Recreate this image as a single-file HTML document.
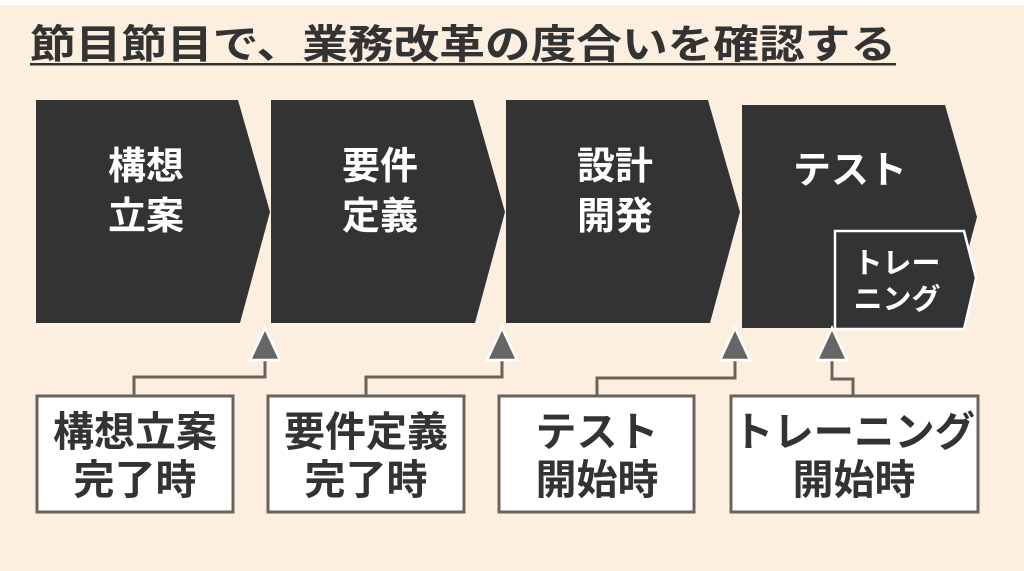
<!DOCTYPE html>
<html><head><meta charset="utf-8"><style>
body{margin:0;background:#fff}
svg{display:block}
text{font-family:"Liberation Sans","Noto Sans CJK JP",sans-serif;font-weight:bold}
</style></head><body>
<svg width="1024" height="571" viewBox="0 0 1024 571">
<rect x="0" y="5" width="1024" height="566" fill="#fdefdf"/>
<text x="30" y="58" font-size="40" fill="#333" textLength="866" lengthAdjust="spacingAndGlyphs">節目節目で、業務改革の度合いを確認する</text>
<rect x="30" y="63" width="866" height="2.5" fill="#333"/>
<g fill="#333">
<polygon points="36,100 238,100 270,212 240,323 36,323"/>
<polygon points="271,100 473,100 505,212 475,323 271,323"/>
<polygon points="506,100 708,100 740,212 710,323 506,323"/>
<polygon points="742,105 945,105 977,217 947,328 742,328"/>
</g>
<polygon points="835,231 964,231 976,278 964,329 835,329" fill="#333" stroke="#fff" stroke-width="2.5"/>
<g fill="#fff" font-size="38" text-anchor="middle">
<text x="146" y="179">構想</text><text x="146" y="229">立案</text>
<text x="380" y="179">要件</text><text x="380" y="229">定義</text>
<text x="615" y="179">設計</text><text x="615" y="229">開発</text>
<text x="850" y="183">テスト</text>
<text x="897" y="273" font-size="29">トレー</text><text x="897" y="309" font-size="29">ニング</text>
</g>
<g fill="none" stroke="#6a635c" stroke-width="3">
<polyline points="265,358 265,377 134,377 134,395"/>
<polyline points="502,358 502,377 366,377 366,395"/>
<polyline points="735,358 735,378 597,378 597,395"/>
<polyline points="832,358 832,379 853,379 853,395"/>
</g>
<g fill="#666" stroke="#fff" stroke-width="2.5">
<polygon points="265,328 250,360 280,360"/>
<polygon points="502,328 487,360 517,360"/>
<polygon points="735,328 720,360 750,360"/>
<polygon points="832,328 817,360 847,360"/>
</g>
<g fill="#fff" stroke="#6a635c" stroke-width="3">
<rect x="37" y="396" width="196" height="116"/>
<rect x="268" y="396" width="196" height="116"/>
<rect x="499" y="396" width="195" height="116"/>
<rect x="731" y="396" width="247" height="116"/>
</g>
<g fill="#333" font-size="41" text-anchor="middle">
<text x="135" y="446">構想立案</text><text x="135" y="494">完了時</text>
<text x="366" y="446">要件定義</text><text x="366" y="494">完了時</text>
<text x="597" y="446">テスト</text><text x="597" y="494">開始時</text>
<text x="854" y="446" textLength="242" lengthAdjust="spacingAndGlyphs">トレーニング</text><text x="854" y="494">開始時</text>
</g>
</svg>
</body></html>
